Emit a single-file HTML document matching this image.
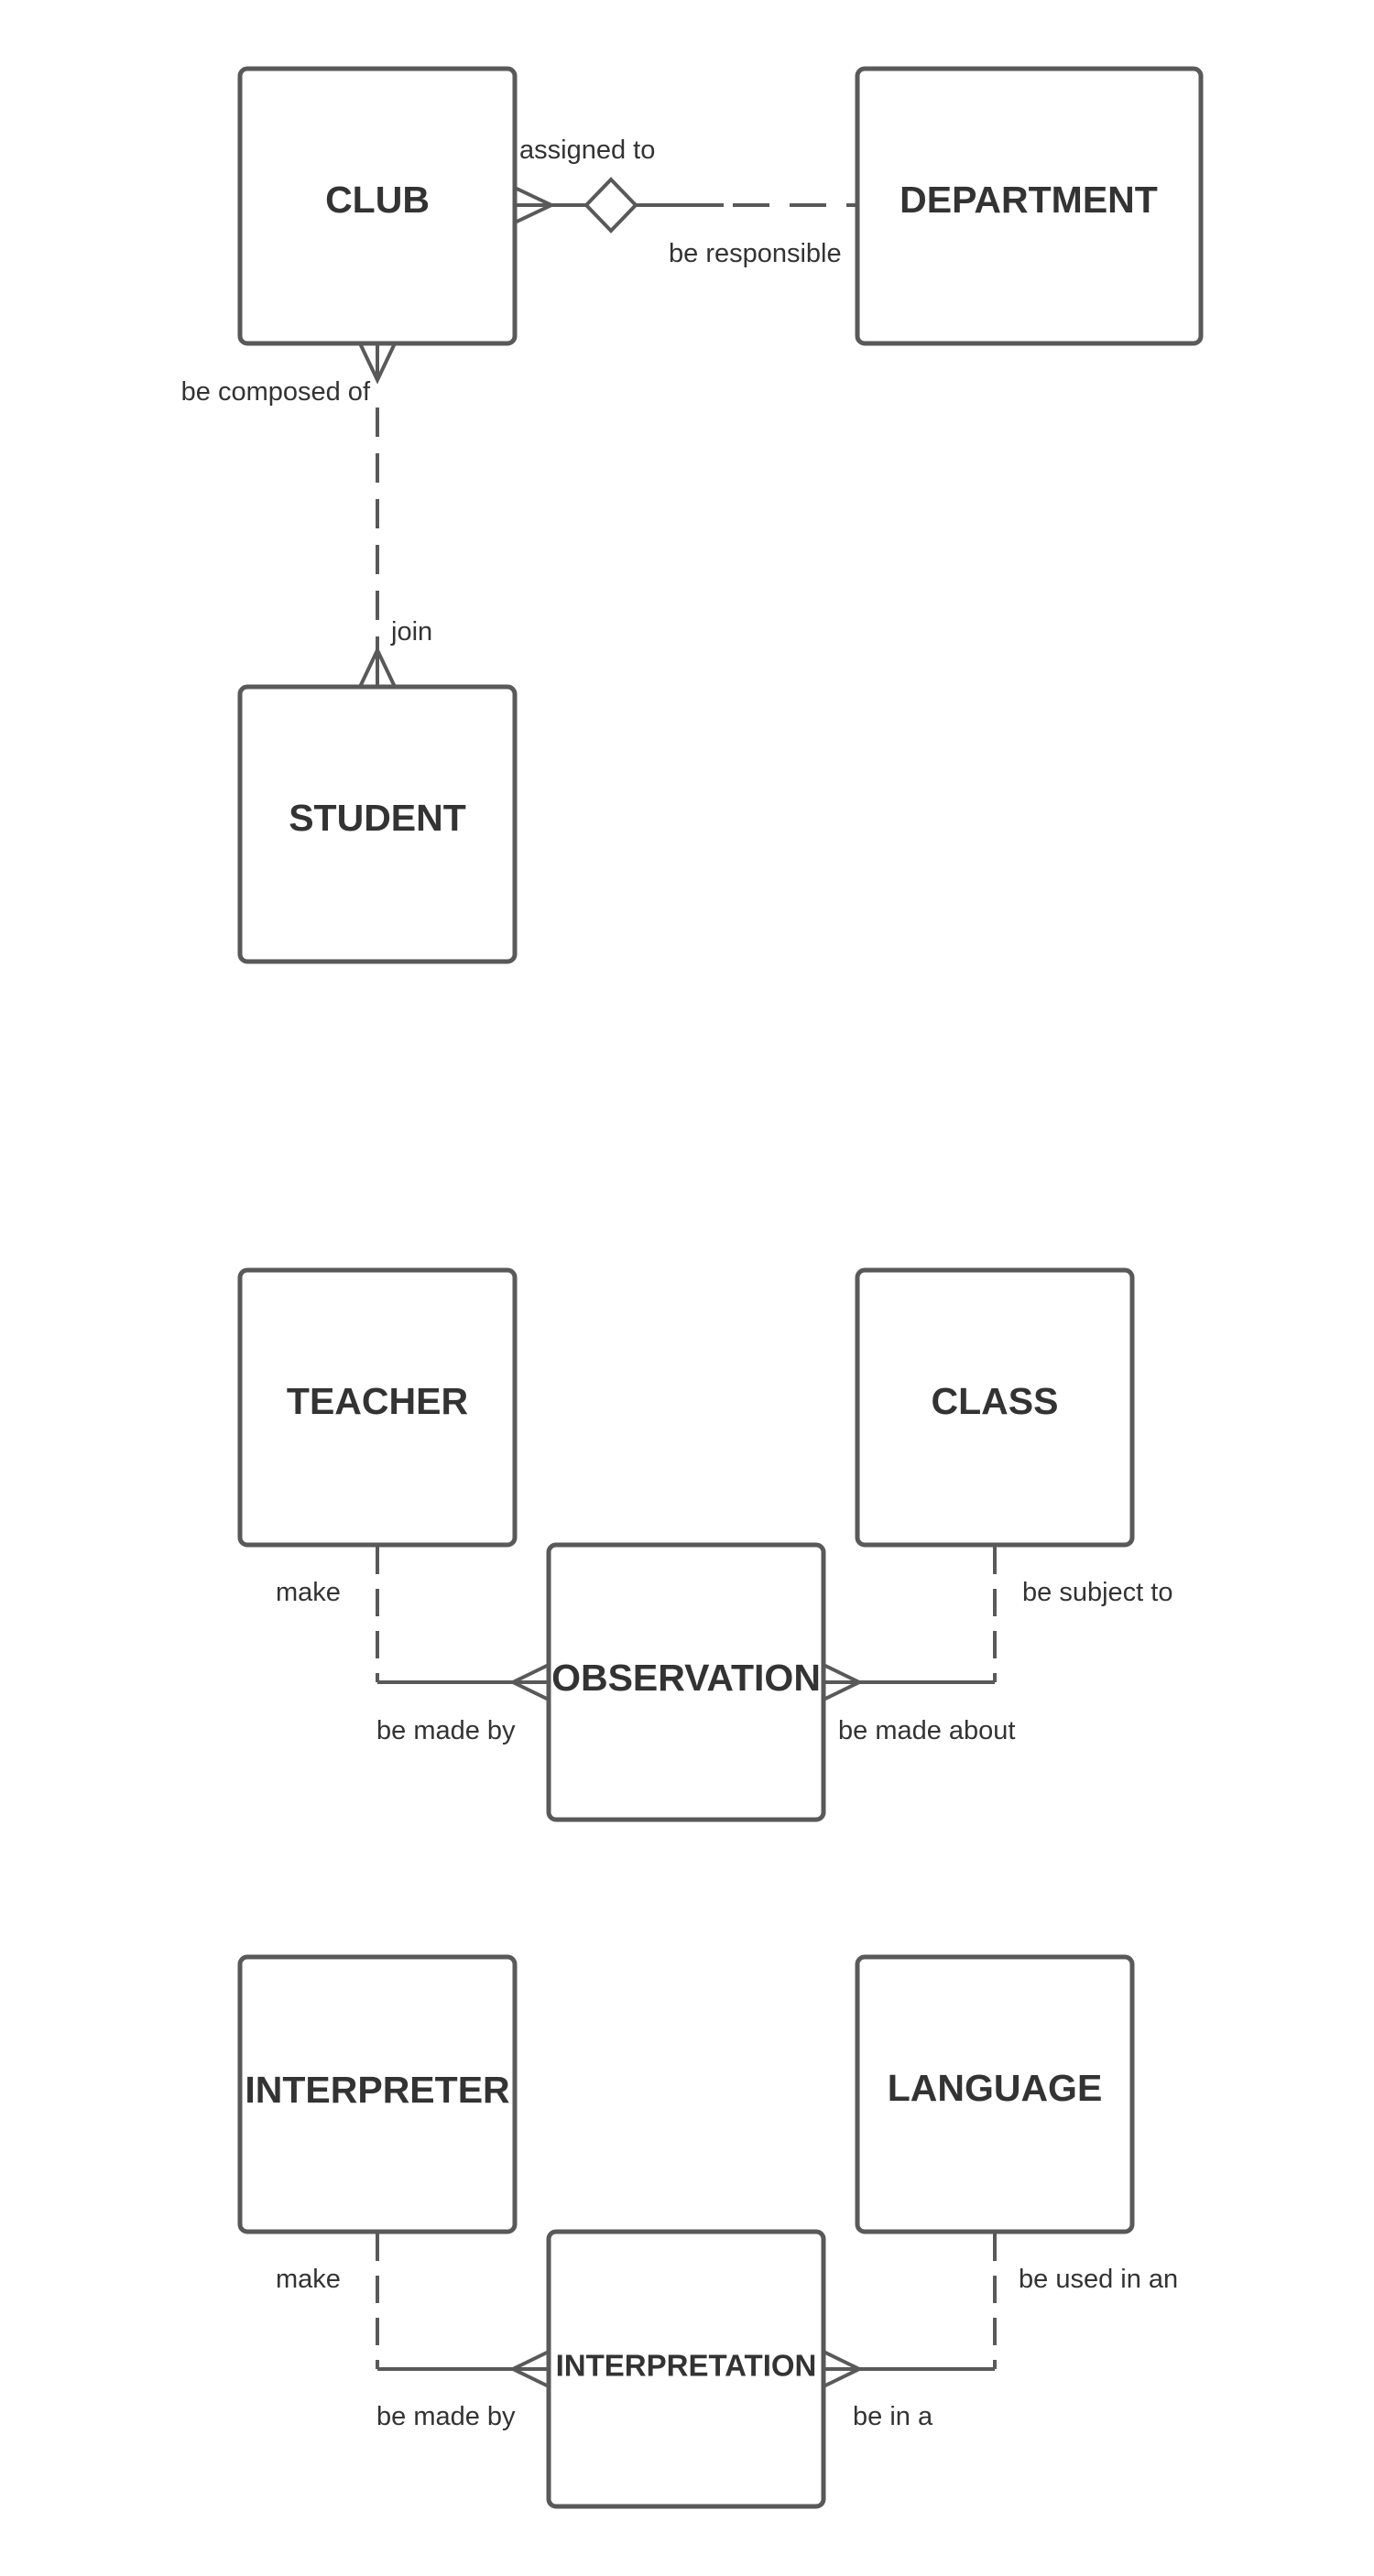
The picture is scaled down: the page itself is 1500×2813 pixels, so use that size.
<!DOCTYPE html>
<html><head><meta charset="utf-8"><style>
html,body{margin:0;padding:0;background:#fff;}
svg{display:block;}
text{font-family:"Liberation Sans",sans-serif;fill:#333;}
.b{font-weight:bold;font-size:41px;text-anchor:middle;dominant-baseline:central;}
.l{font-size:29px;}
</style></head><body>
<svg width="1500" height="2813" viewBox="0 0 1500 2813" xmlns="http://www.w3.org/2000/svg">
<g fill="none" stroke="#595959" stroke-width="5">
<rect x="262" y="75" width="300" height="300" rx="8"/>
<rect x="936" y="75" width="375" height="300" rx="8"/>
<rect x="262" y="750" width="300" height="300" rx="8"/>
<rect x="262" y="1387" width="300" height="300" rx="8"/>
<rect x="936" y="1387" width="300" height="300" rx="8"/>
<rect x="599" y="1687" width="300" height="300" rx="8"/>
<rect x="262" y="2137" width="300" height="300" rx="8"/>
<rect x="936" y="2137" width="300" height="300" rx="8"/>
<rect x="599" y="2437" width="300" height="300" rx="8"/>
</g>
<g fill="none" stroke="#595959" stroke-width="4">
<line x1="562" y1="224" x2="640" y2="224"/>
<polyline points="562,205 602,224 562,243"/>
<polygon points="640,224 667,196 694,224 667,252" fill="#fff"/>
<line x1="694" y1="224" x2="790" y2="224"/>
<line x1="790" y1="224" x2="936" y2="224" stroke-dasharray="40,22" stroke-dashoffset="-10"/>
<polyline points="393,375 412,415 431,375"/>
<line x1="412" y1="375" x2="412" y2="415"/>
<line x1="412" y1="445" x2="412" y2="710" stroke-dasharray="32,18"/>
<line x1="412" y1="710" x2="412" y2="750"/>
<polyline points="393,750 412,710 431,750"/>
<line x1="412" y1="1689" x2="412" y2="1837" stroke-dasharray="30,16"/>
<line x1="412" y1="1837" x2="599" y2="1837"/>
<polyline points="599,1818 560,1837 599,1856"/>
<line x1="1086" y1="1689" x2="1086" y2="1837" stroke-dasharray="30,16"/>
<line x1="1086" y1="1837" x2="899" y2="1837"/>
<polyline points="899,1818 938,1837 899,1856"/>
<line x1="412" y1="2439" x2="412" y2="2587" stroke-dasharray="30,16"/>
<line x1="412" y1="2587" x2="599" y2="2587"/>
<polyline points="599,2568 560,2587 599,2606"/>
<line x1="1086" y1="2439" x2="1086" y2="2587" stroke-dasharray="30,16"/>
<line x1="1086" y1="2587" x2="899" y2="2587"/>
<polyline points="899,2568 938,2587 899,2606"/>
</g>
<text class="b" x="412" y="218">CLUB</text>
<text class="b" x="1123" y="218">DEPARTMENT</text>
<text class="b" x="412" y="893">STUDENT</text>
<text class="b" x="412" y="1530">TEACHER</text>
<text class="b" x="1086" y="1530">CLASS</text>
<text class="b" x="749" y="1832">OBSERVATION</text>
<text class="b" x="412" y="2282">INTERPRETER</text>
<text class="b" x="1086" y="2280">LANGUAGE</text>
<text class="b" x="749" y="2583" style="font-size:33px">INTERPRETATION</text>
<text class="l" x="567" y="173">assigned to</text>
<text class="l" x="730" y="286">be responsible</text>
<text class="l" x="404" y="437" text-anchor="end">be composed of</text>
<text class="l" x="427" y="699">join</text>
<text class="l" x="301" y="1748">make</text>
<text class="l" x="411" y="1899">be made by</text>
<text class="l" x="1116" y="1748">be subject to</text>
<text class="l" x="915" y="1899">be made about</text>
<text class="l" x="301" y="2498">make</text>
<text class="l" x="411" y="2648">be made by</text>
<text class="l" x="1112" y="2498">be used in an</text>
<text class="l" x="931" y="2648">be in a</text>
</svg>
</body></html>
